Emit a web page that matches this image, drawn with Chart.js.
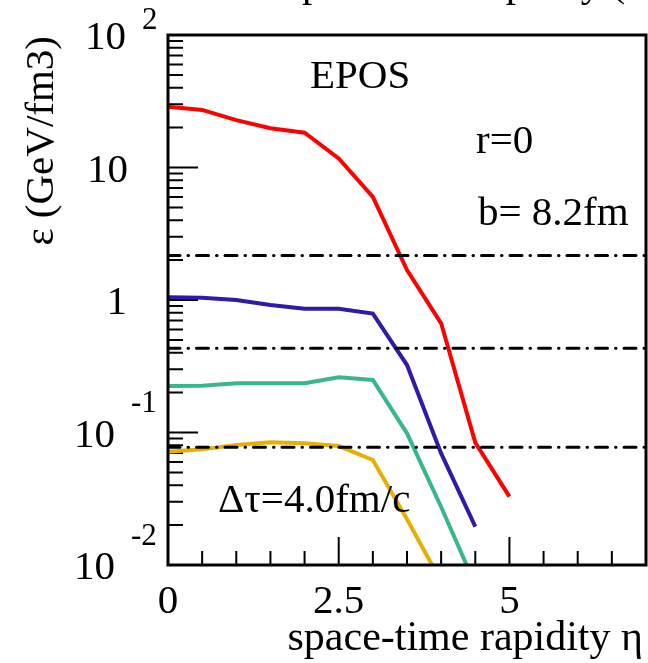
<!DOCTYPE html>
<html>
<head>
<meta charset="utf-8">
<script src="https://cdn.jsdelivr.net/npm/chart.js@4/dist/chart.umd.min.js"></script>
<style>
  html, body { margin: 0; padding: 0; background: #fff; }
  canvas { display: block; }
</style>
</head>
<body>
<canvas id="chart" width="648" height="663"></canvas>
<script>
// space-time rapidity values (x)
const eta = [0, 0.5, 1, 1.5, 2, 2.5, 3, 3.5, 4, 4.5, 5];

// energy density curves (GeV/fm3)
const redEps = [28.8, 27.2, 22.8, 19.8, 18.3, 11.7, 6.0, 1.68, 0.667, 0.0838, 0.0328];
const blueEps = [1.05, 1.04, 1.0, 0.917, 0.86, 0.86, 0.79, 0.323, 0.0696, 0.0195];
const greenEps = [0.224, 0.225, 0.235, 0.235, 0.235, 0.261, 0.249, 0.0986, 0.0274, 0.0071];
const yellowEps = [0.0716, 0.0746, 0.0805, 0.0843, 0.0829, 0.079, 0.062, 0.0221, 0.0075];

// dash-dot reference levels
const levels = [2.17, 0.432, 0.0773];

// axis ticks
const xMajorTicks = [0, 2.5, 5];
const xTickLabels = ["0", "2.5", "5"];
const xMinorTicks = [0.5, 1, 1.5, 2, 3, 3.5, 4, 4.5, 5.5, 6, 6.5];
const yDecades = [100, 10, 1, 0.1, 0.01];

const FONT = "'Liberation Serif', 'Times New Roman', serif";

function toPoints(ys) {
  return ys.map((y, i) => ({ x: eta[i], y: y }));
}

function curve(ys, color) {
  return {
    data: toPoints(ys),
    borderColor: color,
    borderWidth: 4,
    pointRadius: 0,
    tension: 0,
    fill: false
  };
}

function levelLine(v) {
  return {
    data: [{ x: 0, y: v }, { x: 7, y: v }],
    borderColor: "#000",
    borderWidth: 3,
    borderCapStyle: "round",
    borderDash: [12, 8, 0.5, 8],
    pointRadius: 0,
    fill: false
  };
}

const decor = {
  id: "decor",
  beforeDatasetsDraw(chart) {
    const ctx = chart.ctx;
    const x = chart.scales.x, y = chart.scales.y;
    const a = chart.chartArea;
    ctx.save();
    ctx.strokeStyle = "#000";
    ctx.lineWidth = 2;
    // y ticks (inside, log)
    ctx.beginPath();
    yDecades.forEach((d) => {
      if (d < 100) {
        const py = y.getPixelForValue(d);
        ctx.moveTo(a.left, py); ctx.lineTo(a.left + 30, py);
      }
      if (d >= 0.1) {
        for (let k = 2; k <= 9; k++) {
          const py = y.getPixelForValue(d * k / 10);
          ctx.moveTo(a.left, py); ctx.lineTo(a.left + 15, py);
        }
      }
    });
    // x ticks
    xMajorTicks.forEach((v) => {
      const px = x.getPixelForValue(v);
      ctx.moveTo(px, a.bottom); ctx.lineTo(px, a.bottom - 28);
    });
    xMinorTicks.forEach((v) => {
      const px = x.getPixelForValue(v);
      ctx.moveTo(px, a.bottom); ctx.lineTo(px, a.bottom - 14);
    });
    ctx.stroke();
    ctx.restore();
  },
  afterDraw(chart) {
    const ctx = chart.ctx;
    const x = chart.scales.x, y = chart.scales.y;
    const a = chart.chartArea;
    ctx.save();
    // frame
    ctx.strokeStyle = "#000";
    ctx.lineWidth = 3;
    ctx.strokeRect(a.left, a.top, a.right - a.left, a.bottom - a.top);

    ctx.fillStyle = "#000";
    ctx.textBaseline = "alphabetic";

    // x tick labels
    ctx.font = "41px " + FONT;
    ctx.textAlign = "center";
    xMajorTicks.forEach((v, i) => {
      ctx.fillText(xTickLabels[i], x.getPixelForValue(v), a.bottom + 48);
    });

    // y tick labels
    const yl = (v, base, sup, right, supDy) => {
      const py = y.getPixelForValue(v);
      ctx.font = "41px " + FONT;
      ctx.textAlign = "right";
      ctx.fillText(base, right, py + 14);
      if (sup) {
        ctx.font = "31px " + FONT;
        ctx.textAlign = "left";
        ctx.fillText(sup, right + 16, py + supDy);
      }
    };
    yl(100, "10", "2", 126, -6);
    yl(10, "10", "", 128, 0);
    yl(1, "1", "", 127, 0);
    yl(0.1, "10", "-1", 115, -21);
    yl(0.01, "10", "-2", 115, -20);

    // axis titles
    ctx.font = "42px " + FONT;
    ctx.textAlign = "right";
    ctx.fillText("space-time rapidity \u03b7", 643, 650);
    ctx.save();
    ctx.font = "41px " + FONT;
    ctx.translate(53, a.top + 1);
    ctx.rotate(-Math.PI / 2);
    ctx.textAlign = "right";
    ctx.fillText("\u03b5 (GeV/fm3)", 0, 0);
    ctx.restore();

    // clipped title at the very top
    ctx.font = "41px " + FONT;
    ctx.textAlign = "left";
    ctx.fillText("space-time rapidity (", 286, -4);

    // annotations
    ctx.fillText("EPOS", 310, 88);
    ctx.fillText("r=0", 476, 153);
    ctx.fillText("b= 8.2fm", 478, 225);
    ctx.fillText("\u0394\u03c4=4.0fm/c", 218, 512);
    ctx.restore();
  }
};

new Chart(document.getElementById("chart"), {
  type: "line",
  data: {
    datasets: [
      levelLine(levels[0]),
      levelLine(levels[1]),
      levelLine(levels[2]),
      curve(yellowEps, "#e6b000"),
      curve(greenEps, "#38b888"),
      curve(blueEps, "#3319aa"),
      curve(redEps, "#ff0000")
    ]
  },
  options: {
    responsive: false,
    devicePixelRatio: 1,
    animation: false,
    layout: { padding: { left: 168, top: 35, right: 2, bottom: 98 } },
    plugins: { legend: { display: false }, tooltip: { enabled: false } },
    scales: {
      x: { type: "linear", min: 0, max: 7, display: false },
      y: { type: "logarithmic", min: 0.01, max: 100, display: false }
    }
  },
  plugins: [decor]
});
</script>
</body>
</html>
